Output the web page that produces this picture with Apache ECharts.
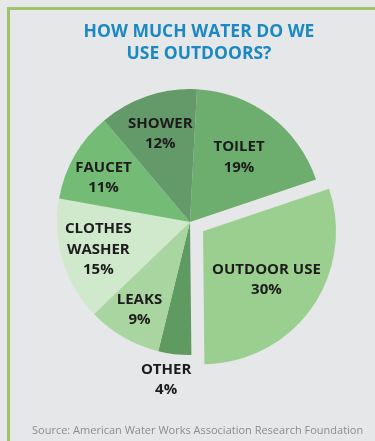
<!DOCTYPE html>
<html>
<head>
<meta charset="utf-8">
<script src="https://cdn.jsdelivr.net/npm/echarts@6/dist/echarts.min.js"></script>
<style>
html,body{margin:0;padding:0;background:#e6e7e8;}
#c{width:375px;height:441px;}
</style>
</head>
<body>
<div id="c"></div>
<script>
const categories = ['TOILET', 'OUTDOOR USE', 'OTHER', 'LEAKS', 'CLOTHES\nWASHER', 'FAUCET', 'SHOWER'];
const values = [19, 30, 4, 9, 15, 11, 12];
const exploded = [false, true, false, false, false, false, false];
const colors = ['#6dae6e', '#9bcf8f', '#5f9a61', '#a9d5a0', '#d0e8cb', '#74bc76', '#64996a'];
const labelRadiusFactor = [0.61, 0.60, 1.2, 0.76, 0.72, 0.73, 0.70];
const labelAngleNudge = [0, 2, 2, 0, 0, -3, 0];
const titleText = 'HOW MUCH WATER DO WE\nUSE OUTDOORS?';
const sourceText = 'Source: American Water Works Association Research Foundation';

const CX = 190, CY = 222, R = 133, START = 87, EXPLODE = 16;
const total = values.reduce((a, b) => a + b, 0);

function midAngle(i) {
  let before = 0;
  for (let k = 0; k < i; k++) before += values[k];
  const midFrac = (before + values[i] / 2) / total;
  return (90 - START) * Math.PI / 180 + midFrac * 2 * Math.PI; // clockwise from 12 o'clock
}
const exIdx = exploded.indexOf(true);
const exCenter = [CX + Math.sin(midAngle(exIdx)) * EXPLODE, CY - Math.cos(midAngle(exIdx)) * EXPLODE];

function makeLayout(center) {
  return function (params) {
    const i = params.dataIndex;
    const ang = midAngle(i) + labelAngleNudge[i] * Math.PI / 180;
    const r = R * labelRadiusFactor[i];
    return {x: center[0] + Math.sin(ang) * r, y: center[1] - Math.cos(ang) * r, align: 'center', verticalAlign: 'middle'};
  };
}

const labelStyle = {
  show: true,
  position: 'inside',
  formatter: p => p.name + '\n' + p.value + '%',
  fontFamily: 'Open Sans',
  fontWeight: 'bold',
  fontSize: 15,
  lineHeight: 20.5,
  color: '#1c1c1c',
  align: 'center'
};

function makeSeries(center, showExploded) {
  return {
    type: 'pie',
    center: center,
    radius: [0, R],
    startAngle: START,
    clockwise: true,
    avoidLabelOverlap: false,
    silent: true,
    emphasis: {disabled: true},
    itemStyle: {borderWidth: 0},
    label: labelStyle,
    labelLine: {show: false},
    labelLayout: makeLayout(center),
    data: categories.map((c, i) => {
      const visible = exploded[i] === showExploded;
      return {
        name: c,
        value: values[i],
        itemStyle: {color: visible ? colors[i] : 'rgba(0,0,0,0)'},
        label: {show: visible}
      };
    })
  };
}

const chart = echarts.init(document.getElementById('c'), null, {renderer: 'canvas'});
chart.setOption({
  backgroundColor: '#e6e7e8',
  animation: false,
  title: {
    text: titleText,
    left: 194,
    textAlign: 'center',
    top: 16,
    textStyle: {
      fontFamily: 'Open Sans',
      fontWeight: 'bold',
      fontSize: 17.5,
      lineHeight: 22,
      color: '#1a89c3'
    }
  },
  graphic: [
    {type: 'rect', shape: {x: 7, y: 7, width: 368, height: 3}, style: {fill: '#9dc36b'}},
    {type: 'rect', shape: {x: 7, y: 7, width: 3, height: 434}, style: {fill: '#9dc36b'}},
    {type: 'text', left: 32, top: 425, style: {text: sourceText, font: '11px "Open Sans"', fill: '#8c8c8c'}}
  ],
  series: [makeSeries([CX, CY], false), makeSeries(exCenter, true)]
});
</script>
</body>
</html>
